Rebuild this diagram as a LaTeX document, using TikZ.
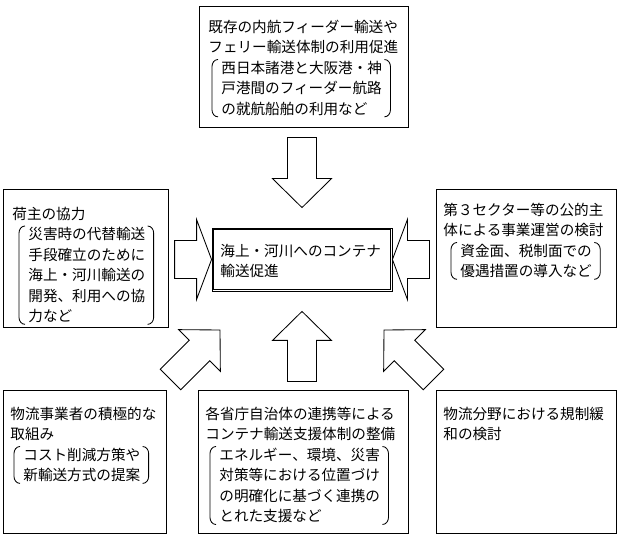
\documentclass[tikz,border=0pt]{standalone}
\usepackage{fontspec}
\newfontfamily\jpfont{Noto Sans CJK JP}
\usepackage{tikz}

% tall round brackets round a text node
\newcommand{\bracketpair}[1]{%
  \draw ([xshift=-3pt,yshift=1pt]#1.north west) to[out=180,in=90] ([xshift=-9pt,yshift=-6pt]#1.north west)
    -- ([xshift=-9pt,yshift=6pt]#1.south west) to[out=-90,in=180] ([xshift=-3pt,yshift=-1pt]#1.south west);
  \draw ([xshift=2pt,yshift=1pt]#1.north east) to[out=0,in=90] ([xshift=8pt,yshift=-6pt]#1.north east)
    -- ([xshift=8pt,yshift=6pt]#1.south east) to[out=-90,in=0] ([xshift=2pt,yshift=-1pt]#1.south east);}

\begin{document}
\begin{tikzpicture}[x=1pt,y=1pt,line width=0.85pt,line join=miter,
  font=\jpfont\fontsize{14.6}{20.5}\selectfont,
  panel/.style={draw,inner sep=0pt},
  txt/.style={anchor=north west,inner sep=0pt,align=left},
  bigarrow/.pic={\draw (0,0) -- (-29,29.5) -- (-29,14.5) -- (-70,14.5) -- (-70,-14.5) -- (-29,-14.5) -- (-29,-29.5) -- cycle;},
  sidearrow/.pic={\draw (0,0) -- (-15,40) -- (-15,19) -- (-37,19) -- (-37,-19) -- (-15,-19) -- (-15,-40) -- cycle;}]
\useasboundingbox (0,0) rectangle (619,539);

% centre
\node[panel,minimum width=180pt,minimum height=63pt] (hub) at (302,279.5) {};
\draw ([shift={(2pt,2pt)}]hub.south west) rectangle ([shift={(-2pt,-2pt)}]hub.north east);
\node[txt] (hubtxt) at (220,295.5) {海上・河川へのコンテナ\\輸送促進};

% top
\node[panel,minimum width=209pt,minimum height=121pt] (feeder) at (303.5,472.5) {};
\node[txt] (feederhead) at (208,519.5) {既存の内航フィーダー輸送や\\フェリー輸送体制の利用促進};
\node[txt] (feederbrk) at (221,478.5) {西日本諸港と大阪港・神\\戸港間のフィーダー航路\\の就航船舶の利用など};
\bracketpair{feederbrk}

% left
\node[panel,minimum width=165pt,minimum height=138pt] (shipper) at (85.5,281) {};
\node[txt] (shipperhead) at (12,332.5) {荷主の協力};
\node[txt] (shipperbrk) at (28,312) {災害時の代替輸送\\手段確立のために\\海上・河川輸送の\\開発、利用への協\\力など};
\bracketpair{shipperbrk}

% right
\node[panel,minimum width=180pt,minimum height=138pt] (sector) at (526,281) {};
\node[txt] (sectorhead) at (443,336.5) {第３セクター等の公的主\\体による事業運営の検討};
\node[txt] (sectorbrk) at (460,295.5) {資金面、税制面での\\優遇措置の導入など};
\bracketpair{sectorbrk}

% bottom row
\node[panel,minimum width=163pt,minimum height=143pt] (carrier) at (84.5,77.5) {};
\node[txt] (carrierhead) at (10,132.5) {物流事業者の積極的な\\取組み};
\node[txt] (carrierbrk) at (23,91.5) {コスト削減方策や\\新輸送方式の提案};
\bracketpair{carrierbrk}

\node[panel,minimum width=210pt,minimum height=143pt] (support) at (303,77.5) {};
\node[txt] (supporthead) at (205,132.5) {各省庁自治体の連携等による\\コンテナ輸送支援体制の整備};
\node[txt] (supportbrk) at (219,91.5) {エネルギー、環境、災害\\対策等における位置づけ\\の明確化に基づく連携の\\とれた支援など};
\bracketpair{supportbrk}

\node[panel,minimum width=180pt,minimum height=143pt] (dereg) at (526,77.5) {};
\node[txt] (dereghead) at (443,132.5) {物流分野における規制緩\\和の検討};

% arrows into the centre
\pic[rotate=-90] at ([yshift=20pt]hub.north) {bigarrow};
\pic[rotate=90] at ([yshift=-20pt]hub.south) {bigarrow};
\pic at (hub.west) {sidearrow};
\pic[rotate=180] at (hub.east) {sidearrow};
\pic[rotate=45] at (220,209) {bigarrow};
\pic[rotate=135] at (384,209) {bigarrow};
\end{tikzpicture}
\end{document}
